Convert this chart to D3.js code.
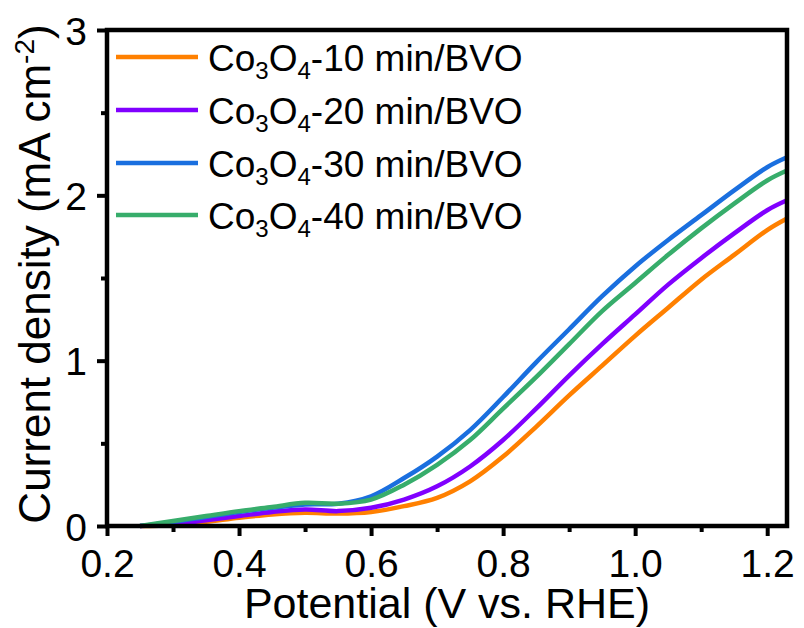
<!DOCTYPE html>
<html>
<head>
<meta charset="utf-8">
<script src="https://cdn.jsdelivr.net/npm/d3@7"></script>
<style>
  body { margin: 0; background: #fff; }
  text { font-family: "Liberation Sans", Arial, sans-serif; fill: #000; }
</style>
</head>
<body>
<svg id="chart" width="804" height="628"></svg>
<script>
// potential (V vs. RHE)
var potential = [0.25, 0.3, 0.35, 0.4, 0.45, 0.5, 0.55, 0.6, 0.65, 0.7, 0.75, 0.8, 0.85, 0.9, 0.95, 1.0, 1.05, 1.1, 1.15, 1.2, 1.23];

// current density (mA cm-2)
var co10 = [0, 0.005, 0.025, 0.05, 0.07, 0.08, 0.075, 0.085, 0.12, 0.17, 0.27, 0.42, 0.60, 0.79, 0.97, 1.15, 1.32, 1.49, 1.64, 1.79, 1.86];
var co20 = [0, 0.01, 0.035, 0.06, 0.085, 0.10, 0.09, 0.11, 0.16, 0.24, 0.36, 0.52, 0.71, 0.91, 1.10, 1.28, 1.46, 1.62, 1.77, 1.91, 1.97];
var co30 = [0, 0.025, 0.055, 0.085, 0.11, 0.13, 0.135, 0.18, 0.29, 0.42, 0.58, 0.78, 0.99, 1.19, 1.39, 1.57, 1.73, 1.88, 2.03, 2.17, 2.23];
var co40 = [0, 0.03, 0.06, 0.09, 0.115, 0.14, 0.135, 0.16, 0.25, 0.37, 0.52, 0.71, 0.90, 1.10, 1.30, 1.47, 1.64, 1.80, 1.95, 2.09, 2.15];

var seriesNames = ['10', '20', '30', '40'];
var seriesColors = ['#ff8000', '#8000ff', '#1a6fdf', '#37ad6b'];
var seriesValues = [co10, co20, co30, co40];

var xTicks = [0.2, 0.4, 0.6, 0.8, 1.0, 1.2];
var yTicks = [0, 1, 2, 3];

var svg = d3.select('#chart');
var margin = {l: 107, t: 30, r: 787, b: 526};

var xScale = d3.scaleLinear().domain([0.2, 1.23]).range([margin.l, margin.r]);
var yScale = d3.scaleLinear().domain([0, 3]).range([margin.b, margin.t]);

var line = d3.line()
    .x(function(d) { return xScale(d[0]); })
    .y(function(d) { return yScale(d[1]); })
    .curve(d3.curveCatmullRom.alpha(0.5));

// curves
seriesValues.forEach(function(vals, i) {
    var pts = potential.map(function(v, j) { return [v, vals[j]]; });
    svg.append('path')
        .datum(pts)
        .attr('d', line)
        .attr('fill', 'none')
        .attr('stroke', seriesColors[i])
        .attr('stroke-width', 4.5);
});

// frame
svg.append('rect')
    .attr('x', margin.l).attr('y', margin.t)
    .attr('width', margin.r - margin.l).attr('height', margin.b - margin.t)
    .attr('fill', 'none').attr('stroke', '#000').attr('stroke-width', 4.5);

// x axis
var xAxis = d3.axisBottom(xScale).tickValues(xTicks).tickSize(10).tickFormat(d3.format('.1f'));
var gx = svg.append('g').attr('transform', 'translate(0,' + margin.b + ')').call(xAxis);
gx.select('.domain').remove();
gx.selectAll('line').attr('stroke-width', 4);
gx.selectAll('text').attr('font-size', 39).attr('dy', 0).attr('y', 51)
    .style('font-family', '"Liberation Sans", Arial, sans-serif');

var xMinor = d3.axisBottom(xScale).tickValues([0.3, 0.5, 0.7, 0.9, 1.1]).tickSize(6).tickFormat('');
var gxm = svg.append('g').attr('transform', 'translate(0,' + margin.b + ')').call(xMinor);
gxm.select('.domain').remove();
gxm.selectAll('line').attr('stroke-width', 4);

// y axis
var yAxis = d3.axisLeft(yScale).tickValues(yTicks).tickSize(10).tickFormat(d3.format('d'));
var gy = svg.append('g').attr('transform', 'translate(' + margin.l + ',0)').call(yAxis);
gy.select('.domain').remove();
gy.selectAll('line').attr('stroke-width', 4);
gy.selectAll('text').attr('font-size', 39).attr('x', -20).attr('dy', '0.36em')
    .style('font-family', '"Liberation Sans", Arial, sans-serif');

var yMinor = d3.axisLeft(yScale).tickValues([0.5, 1.5, 2.5]).tickSize(6).tickFormat('');
var gym = svg.append('g').attr('transform', 'translate(' + margin.l + ',0)').call(yMinor);
gym.select('.domain').remove();
gym.selectAll('line').attr('stroke-width', 4);

// axis titles
svg.append('text')
    .attr('x', 447).attr('y', 618)
    .attr('text-anchor', 'middle')
    .attr('font-size', 43)
    .text('Potential (V vs. RHE)');

var yt = svg.append('text')
    .attr('transform', 'translate(50,274) rotate(-90)')
    .attr('text-anchor', 'middle')
    .attr('font-size', 44);
yt.append('tspan').text('Current density (mA cm');
yt.append('tspan').attr('font-size', 28).attr('dy', -16).text('-2');
yt.append('tspan').attr('dy', 16).text(')');

// legend
var legendY = [57, 110, 163, 215];
seriesNames.forEach(function(name, i) {
    svg.append('line')
        .attr('x1', 116).attr('x2', 198)
        .attr('y1', legendY[i]).attr('y2', legendY[i])
        .attr('stroke', seriesColors[i]).attr('stroke-width', 4.5);
    var t = svg.append('text')
        .attr('x', 208).attr('y', legendY[i] + 14)
        .attr('font-size', 37);
    t.append('tspan').text('Co');
    t.append('tspan').attr('font-size', 24).attr('dy', 8).text('3');
    t.append('tspan').attr('dy', -8).text('O');
    t.append('tspan').attr('font-size', 24).attr('dy', 8).text('4');
    t.append('tspan').attr('dy', -8).text('-' + name + ' min/BVO');
});
</script>
</body>
</html>
